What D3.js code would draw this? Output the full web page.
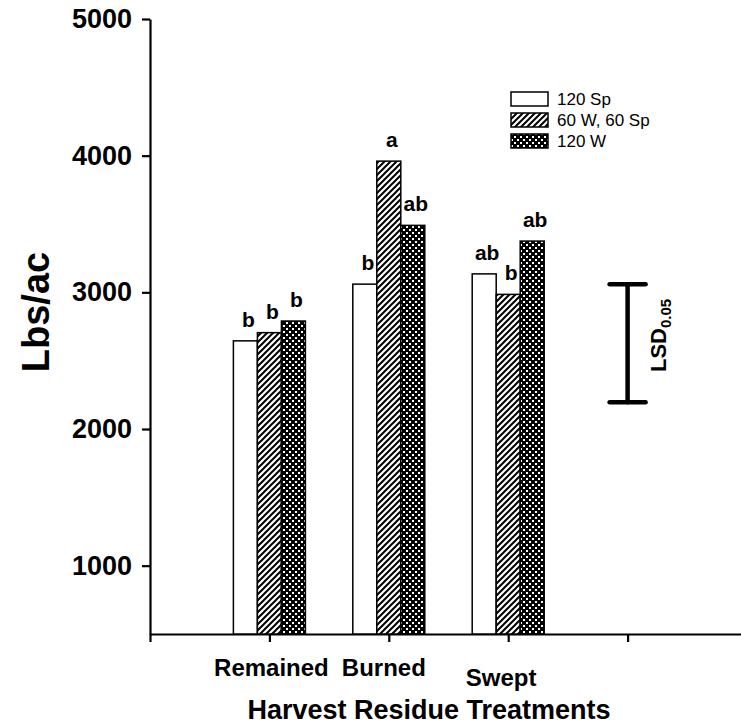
<!DOCTYPE html>
<html>
<head>
<meta charset="utf-8">
<script src="https://cdn.jsdelivr.net/npm/d3@7"></script>
<style>
    body { margin: 0; background: #ffffff; }
    svg  { display: block; }
    text { font-family: 'Liberation Sans', Arial, sans-serif; fill: #000000; }
    .tickLabel { font-size: 27px; font-weight: bold; }
    .catLabel  { font-size: 24px; font-weight: bold; }
    .axisTitle { font-weight: bold; }
    .letter    { font-size: 21px; font-weight: bold; text-anchor: middle; }
    .legendText { font-size: 17px; }
</style>
</head>
<body>
<div id="graph"></div>
<script>

// Data
var treatments   = [ 'Remained', 'Burned', 'Swept' ];
var seriesNames  = [ '120 Sp', '60 W, 60 Sp', '120 W' ];
var sp120        = [ 2645, 3060, 3135 ];
var w60sp60      = [ 2705, 3960, 2985 ];
var w120         = [ 2790, 3490, 3375 ];
var letters120Sp = [ 'b', 'b', 'ab' ];
var lettersMix   = [ 'b', 'a', 'b' ];
var letters120W  = [ 'b', 'ab', 'ab' ];
var yTicks       = [ 1000, 2000, 3000, 4000, 5000 ];
var yDomain      = [ 500, 5000 ];
var lsdRange     = [ 2195, 3060 ];
var lsdLabel     = 'LSD';
var lsdSub       = '0.05';

var W = 741, H = 728;

var svg = d3.select ('div#graph')
            .append ('svg')
            .attr ('width', W)
            .attr ('height', H);

var defs = svg.append ('defs');

// diagonal hatch
var hatch = defs.append ('pattern')
                .attr ('id', 'hatch')
                .attr ('patternUnits', 'userSpaceOnUse')
                .attr ('width', 6)
                .attr ('height', 6);
hatch.append ('rect').attr ('width', 6).attr ('height', 6).attr ('fill', '#fff');
hatch.append ('path')
     .attr ('d', 'M-1,1 l2,-2 M0,6 l6,-6 M5,7 l2,-2')
     .attr ('stroke', '#000')
     .attr ('stroke-width', 2);

// dense cross hatch (black with white dots)
var cross = defs.append ('pattern')
                .attr ('id', 'cross')
                .attr ('patternUnits', 'userSpaceOnUse')
                .attr ('width', 6)
                .attr ('height', 6);
cross.append ('rect').attr ('width', 6).attr ('height', 6).attr ('fill', '#000');
cross.append ('rect').attr ('x', 1).attr ('y', 1).attr ('width', 2).attr ('height', 2).attr ('fill', '#fff');
cross.append ('rect').attr ('x', 4).attr ('y', 4).attr ('width', 2).attr ('height', 2).attr ('fill', '#fff');

var fills = [ '#ffffff', 'url(#hatch)', 'url(#cross)' ];

// scales
var xScale = d3.scaleLinear ()
               .domain ([0, 5])
               .range ([150, 747]);

var yScale = d3.scaleLinear ()
               .domain (yDomain)
               .range ([634, 19]);

var barWidth = 24;

// axes
var xAxis = d3.axisBottom (xScale)
              .tickValues ([0, 1, 2, 3, 4, 5])
              .tickSize (8)
              .tickSizeOuter (0)
              .tickFormat ('');

var yAxis = d3.axisLeft (yScale)
              .tickValues (yTicks)
              .tickSize (8)
              .tickSizeOuter (0)
              .tickPadding (10)
              .tickFormat (d3.format ('d'));

var gx = svg.append ('g')
            .attr ('class', 'x axis')
            .attr ('transform', 'translate(0,' + yScale (yDomain[0]) + ')')
            .call (xAxis);

var gy = svg.append ('g')
            .attr ('class', 'y axis')
            .attr ('transform', 'translate(' + xScale (0) + ',0)')
            .call (yAxis);

svg.selectAll ('.axis path').attr ('stroke', '#000').attr ('stroke-width', 2.2);
svg.selectAll ('.axis line').attr ('stroke', '#000').attr ('stroke-width', 2.2);
gy.selectAll ('text').attr ('class', 'tickLabel').attr ('fill', '#000');

// bars
var series = [ sp120, w60sp60, w120 ];
var seriesLetters = [ letters120Sp, lettersMix, letters120W ];

for (var s = 0; s < series.length; s++)
{
    var g = svg.append ('g');

    g.selectAll ('rect')
     .data (series[s])
     .enter ()
     .append ('rect')
     .attr ('x', function (d, i) { return xScale (i + 1) + (s - 1.5) * barWidth; })
     .attr ('y', function (d) { return yScale (d); })
     .attr ('width', barWidth)
     .attr ('height', function (d) { return yScale (yDomain[0]) - yScale (d); })
     .attr ('fill', fills[s])
     .attr ('stroke', '#000')
     .attr ('stroke-width', 1.5);

    g.selectAll ('text')
     .data (series[s])
     .enter ()
     .append ('text')
     .attr ('class', 'letter')
     .attr ('x', function (d, i) { return xScale (i + 1) + (s - 1) * barWidth + 3; })
     .attr ('y', function (d) { return yScale (d) - 14; })
     .text (function (d, i) { return seriesLetters[s][i]; });
}

// category labels (placed by hand in the original)
var catDx = [ 2, -5, -7 ];
var catDy = [ 0, 0, 10 ];
svg.selectAll ('.catLabel')
   .data (treatments)
   .enter ()
   .append ('text')
   .attr ('class', 'catLabel')
   .attr ('text-anchor', 'middle')
   .attr ('x', function (d, i) { return xScale (i + 1) + catDx[i]; })
   .attr ('y', function (d, i) { return 676 + catDy[i]; })
   .text (function (d) { return d; });

// axis titles
svg.append ('text')
   .attr ('class', 'axisTitle')
   .attr ('text-anchor', 'middle')
   .style ('font-size', '27px')
   .attr ('x', 429)
   .attr ('y', 719)
   .text ('Harvest Residue Treatments');

svg.append ('text')
   .attr ('class', 'axisTitle')
   .attr ('text-anchor', 'middle')
   .style ('font-size', '38px')
   .attr ('transform', 'translate(49,312) rotate(-90)')
   .text ('Lbs/ac');

// LSD bar
var lsdX = xScale (4);
var lsd = svg.append ('g')
             .attr ('stroke', '#000')
             .attr ('stroke-width', 4.5)
             .attr ('stroke-linecap', 'round');
lsd.append ('line')
   .attr ('x1', lsdX).attr ('x2', lsdX)
   .attr ('y1', yScale (lsdRange[0])).attr ('y2', yScale (lsdRange[1]));
lsd.append ('line')
   .attr ('x1', lsdX - 18).attr ('x2', lsdX + 18)
   .attr ('y1', yScale (lsdRange[1])).attr ('y2', yScale (lsdRange[1]));
lsd.append ('line')
   .attr ('x1', lsdX - 18).attr ('x2', lsdX + 18)
   .attr ('y1', yScale (lsdRange[0])).attr ('y2', yScale (lsdRange[0]));

var lsdText = svg.append ('text')
                 .attr ('transform', 'translate(' + (lsdX + 38) + ',' + 372 + ') rotate(-90)')
                 .style ('font-size', '22px')
                 .style ('font-weight', 'bold');
lsdText.append ('tspan').text (lsdLabel);
lsdText.append ('tspan')
       .attr ('dy', 5)
       .style ('font-size', '15px')
       .text (lsdSub);

// legend
var legend = svg.append ('g');
for (var i = 0; i < seriesNames.length; i++)
{
    legend.append ('rect')
          .attr ('x', 511)
          .attr ('y', 92 + i * 21)
          .attr ('width', 37)
          .attr ('height', 14)
          .attr ('fill', fills[i])
          .attr ('stroke', '#000')
          .attr ('stroke-width', 1.5);

    legend.append ('text')
          .attr ('class', 'legendText')
          .attr ('x', 557)
          .attr ('y', 92 + i * 21 + 13)
          .text (seriesNames[i]);
}

</script>
</body>
</html>
